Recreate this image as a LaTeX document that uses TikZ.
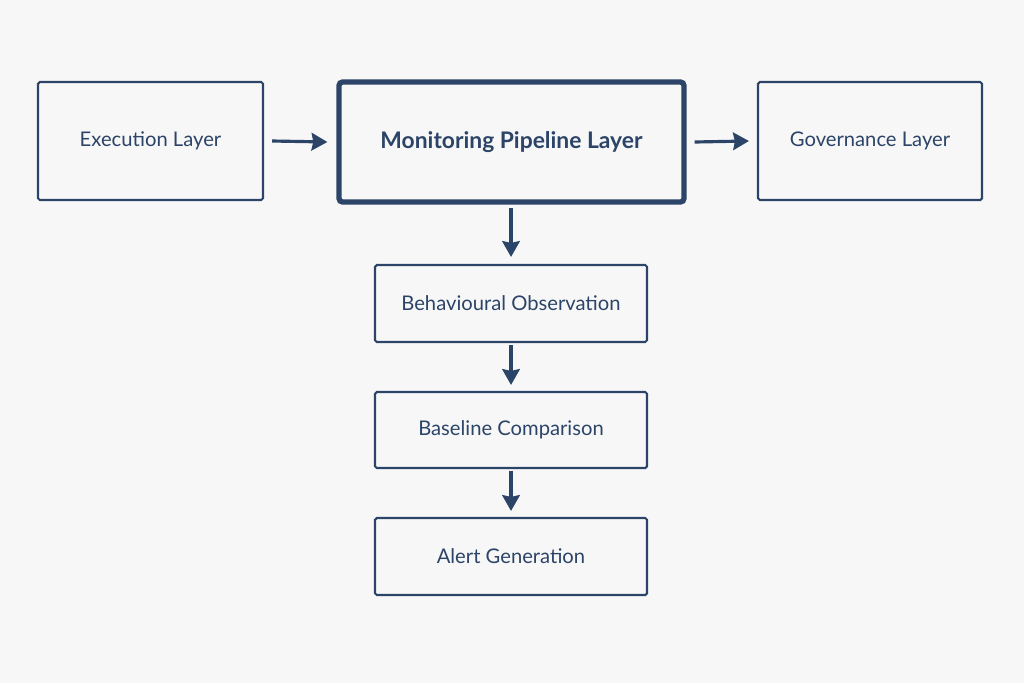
\documentclass[tikz,border=0pt]{standalone}
\usepackage{fontspec}
\setmainfont{Lato}
\usetikzlibrary{arrows.meta}
\definecolor{navy}{HTML}{2B4468}
\definecolor{bg}{HTML}{F7F7F7}
\begin{document}
\begin{tikzpicture}[x=0.02cm,y=-0.02cm,
  box/.style={draw=navy,line width=1.2pt,rounded corners=1pt,text=navy,font=\fontsize{11.5}{13}\selectfont,inner sep=0pt},
  main/.style={draw=navy,line width=3pt,rounded corners=2pt,text=navy,font=\fontsize{13}{15}\selectfont\bfseries,inner sep=0pt},
  arr/.style={draw=navy,line width=1.8pt,-{Stealth[length=9pt,width=10pt,inset=1pt]}}]
\fill[bg] (0,0) rectangle (1024,683);
\node[box,minimum width=225*0.02cm,minimum height=118*0.02cm] (exec) at (150.5,141) {Execution Layer};
\node[main,minimum width=345*0.02cm,minimum height=120*0.02cm] (mon) at (511.5,142) {Monitoring Pipeline Layer};
\node[box,minimum width=224*0.02cm,minimum height=118*0.02cm] (gov) at (870,141) {Governance Layer};
\node[box,minimum width=272*0.02cm,minimum height=77*0.02cm] (beh) at (511,303.5) {Behavioural Observation};
\node[box,minimum width=272*0.02cm,minimum height=76*0.02cm] (base) at (511,430) {Baseline Comparison};
\node[box,minimum width=272*0.02cm,minimum height=77*0.02cm] (alert) at (511,556.5) {Alert Generation};
\draw[arr] ([xshift=8*0.02cm]exec.east) -- ([xshift=-9*0.02cm]mon.west);
\draw[arr] ([xshift=8*0.02cm]mon.east) -- ([xshift=-8*0.02cm]gov.west);
\draw[arr] ([yshift=-3*0.02cm]mon.south -| beh.north) -- ([yshift=7*0.02cm]beh.north);
\draw[arr] ([yshift=-2*0.02cm]beh.south) -- ([yshift=6*0.02cm]base.north);
\draw[arr] ([yshift=-2*0.02cm]base.south) -- ([yshift=6*0.02cm]alert.north);
\end{tikzpicture}
\end{document}
